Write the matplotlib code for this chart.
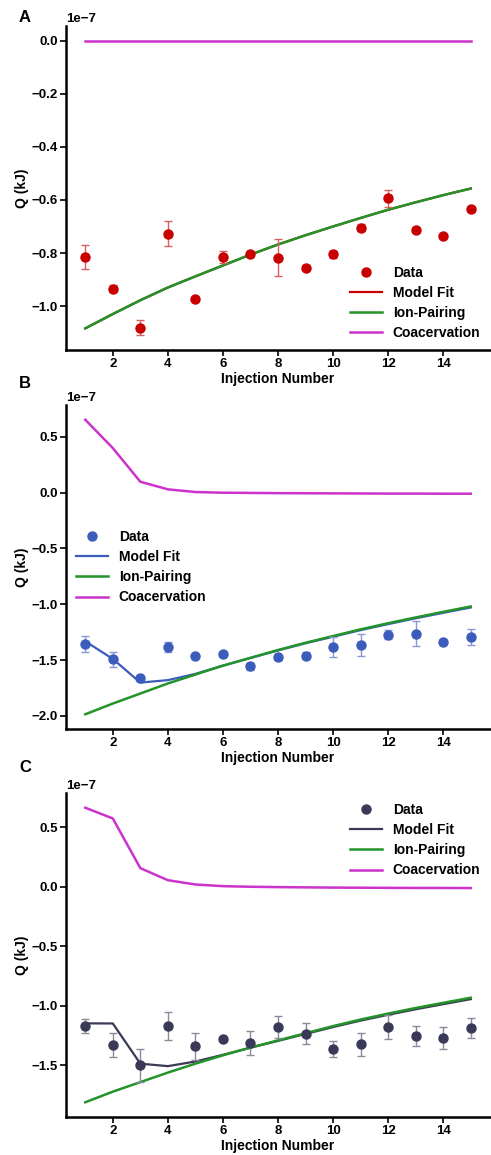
import numpy as np
import matplotlib
matplotlib.use("Agg")
import matplotlib.pyplot as plt
from matplotlib.lines import Line2D

plt.rcParams['font.family'] = ['Liberation Sans', 'DejaVu Sans']
plt.rcParams['font.weight'] = 'bold'
plt.rcParams['axes.labelweight'] = 'bold'

injection = np.arange(1, 16)

# Panel A
a_data = [-0.815, -0.934, -1.082, -0.727, -0.974, -0.815, -0.805, -0.818,
          -0.855, -0.805, -0.704, -0.594, -0.713, -0.737, -0.634]
a_err = [0.047, 0.012, 0.028, 0.048, 0.008, 0.022, 0.008, 0.070,
         0.008, 0.012, 0.012, 0.031, 0.006, 0.006, 0.006]
a_ion = [-1.084, -1.030, -0.978, -0.930, -0.888, -0.847, -0.806, -0.768,
         -0.733, -0.700, -0.668, -0.637, -0.609, -0.582, -0.557]
a_coac = [0.0] * 15
a_fit = [-1.084, -1.030, -0.978, -0.930, -0.888, -0.847, -0.806, -0.768,
         -0.733, -0.700, -0.668, -0.637, -0.609, -0.582, -0.557]

# Panel B
b_data = [-1.356, -1.495, -1.665, -1.385, -1.466, -1.442, -1.555, -1.477,
          -1.460, -1.379, -1.364, -1.275, -1.263, -1.338, -1.296]
b_err = [0.070, 0.067, 0.020, 0.045, 0.012, 0.015, 0.030, 0.020,
         0.030, 0.090, 0.100, 0.040, 0.110, 0.015, 0.070]
b_ion = [-1.986, -1.890, -1.800, -1.710, -1.630, -1.550, -1.480, -1.410,
         -1.345, -1.285, -1.225, -1.170, -1.118, -1.068, -1.020]
b_coac = [0.654, 0.400, 0.098, 0.030, 0.006, 0.000, -0.002, -0.004,
          -0.005, -0.006, -0.007, -0.008, -0.008, -0.009, -0.009]
b_fit = [-1.332, -1.490, -1.702, -1.680, -1.624, -1.550, -1.482, -1.414,
         -1.350, -1.291, -1.232, -1.178, -1.126, -1.077, -1.029]

# Panel C
c_data = [-1.171, -1.330, -1.500, -1.168, -1.341, -1.274, -1.310, -1.177,
          -1.233, -1.363, -1.324, -1.177, -1.252, -1.271, -1.185]
c_err = [0.060, 0.100, 0.135, 0.115, 0.110, 0.015, 0.100, 0.090,
         0.085, 0.070, 0.100, 0.100, 0.085, 0.095, 0.085]
c_ion = [-1.809, -1.720, -1.640, -1.560, -1.485, -1.415, -1.350, -1.290,
         -1.230, -1.170, -1.115, -1.065, -1.018, -0.975, -0.932]
c_coac = [0.662, 0.572, 0.155, 0.054, 0.018, 0.004, -0.001, -0.004,
          -0.006, -0.008, -0.009, -0.010, -0.011, -0.011, -0.012]
c_fit = [-1.147, -1.148, -1.485, -1.506, -1.467, -1.411, -1.351, -1.294,
         -1.236, -1.178, -1.124, -1.075, -1.029, -0.986, -0.944]

panels = [
    ("A", a_data, a_err, a_fit, a_ion, a_coac, "#c80000", "#d86060", "lower right"),
    ("B", b_data, b_err, b_fit, b_ion, b_coac, "#3c5cbc", "#8898d4", "center left"),
    ("C", c_data, c_err, c_fit, c_ion, c_coac, "#3a3a58", "#8a8a9c", "upper right"),
]

W, H = 491, 1155
fig = plt.figure(figsize=(W / 100, H / 100), dpi=100)

tops = [26, 405, 793]
label_y = [18, 384, 767]
ax_h = 324
left, right = 66, 490

green = "#23932a"
magenta = "#cc33cc"
FS_TICK = 9.5
FS_LABEL = 10

for (name, data, err, fit, ion, coac, col, ecol, loc), top, ly in zip(panels, tops, label_y):
    ax = fig.add_axes([left / W, 1 - (top + ax_h) / H, (right - left) / W, ax_h / H])
    scale = 1e-7
    d = np.array(data) * scale
    e = np.array(err) * scale
    ax.errorbar(injection, d, yerr=e, fmt='o', color=col, ecolor=ecol,
                elinewidth=1.0, capsize=3, capthick=1.0, markersize=6.5,
                zorder=4)
    ax.plot(injection, np.array(fit) * scale, color=col, lw=1.6, zorder=2)
    ax.plot(injection, np.array(ion) * scale, color=green, lw=1.8, zorder=3)
    ax.plot(injection, np.array(coac) * scale, color=magenta, lw=1.8, zorder=3)

    ax.set_xlabel("Injection Number", fontsize=FS_LABEL, fontweight='bold', labelpad=1)
    ax.set_ylabel("Q (kJ)", fontsize=FS_LABEL, fontweight='bold', labelpad=2)
    ax.set_xticks([2, 4, 6, 8, 10, 12, 14])
    ax.tick_params(labelsize=FS_TICK, width=1.2, length=4, pad=2)
    for t in ax.get_xticklabels() + ax.get_yticklabels():
        t.set_fontweight('bold')
    ax.yaxis.get_offset_text().set_fontsize(FS_TICK)
    ax.yaxis.get_offset_text().set_fontweight('bold')
    for s in ['top', 'right']:
        ax.spines[s].set_visible(False)
    for s in ['left', 'bottom']:
        ax.spines[s].set_linewidth(1.8)

    handles = [
        Line2D([], [], marker='o', ls='none', color=col, markersize=6.5),
        Line2D([], [], color=col, lw=1.6),
        Line2D([], [], color=green, lw=1.8),
        Line2D([], [], color=magenta, lw=1.8),
    ]
    labels = ["Data", "Model Fit", "Ion-Pairing", "Coacervation"]
    leg = ax.legend(handles, labels, loc=loc, frameon=False, fontsize=10,
                    handlelength=2.3, handletextpad=0.8,
                    borderaxespad=0.3, labelspacing=0.45)
    for t in leg.get_texts():
        t.set_fontweight('bold')

    fig.text(25 / W, 1 - ly / H, name, fontsize=12, fontweight='bold',
             ha='center', va='center')

fig.savefig("out.png", dpi=100)
